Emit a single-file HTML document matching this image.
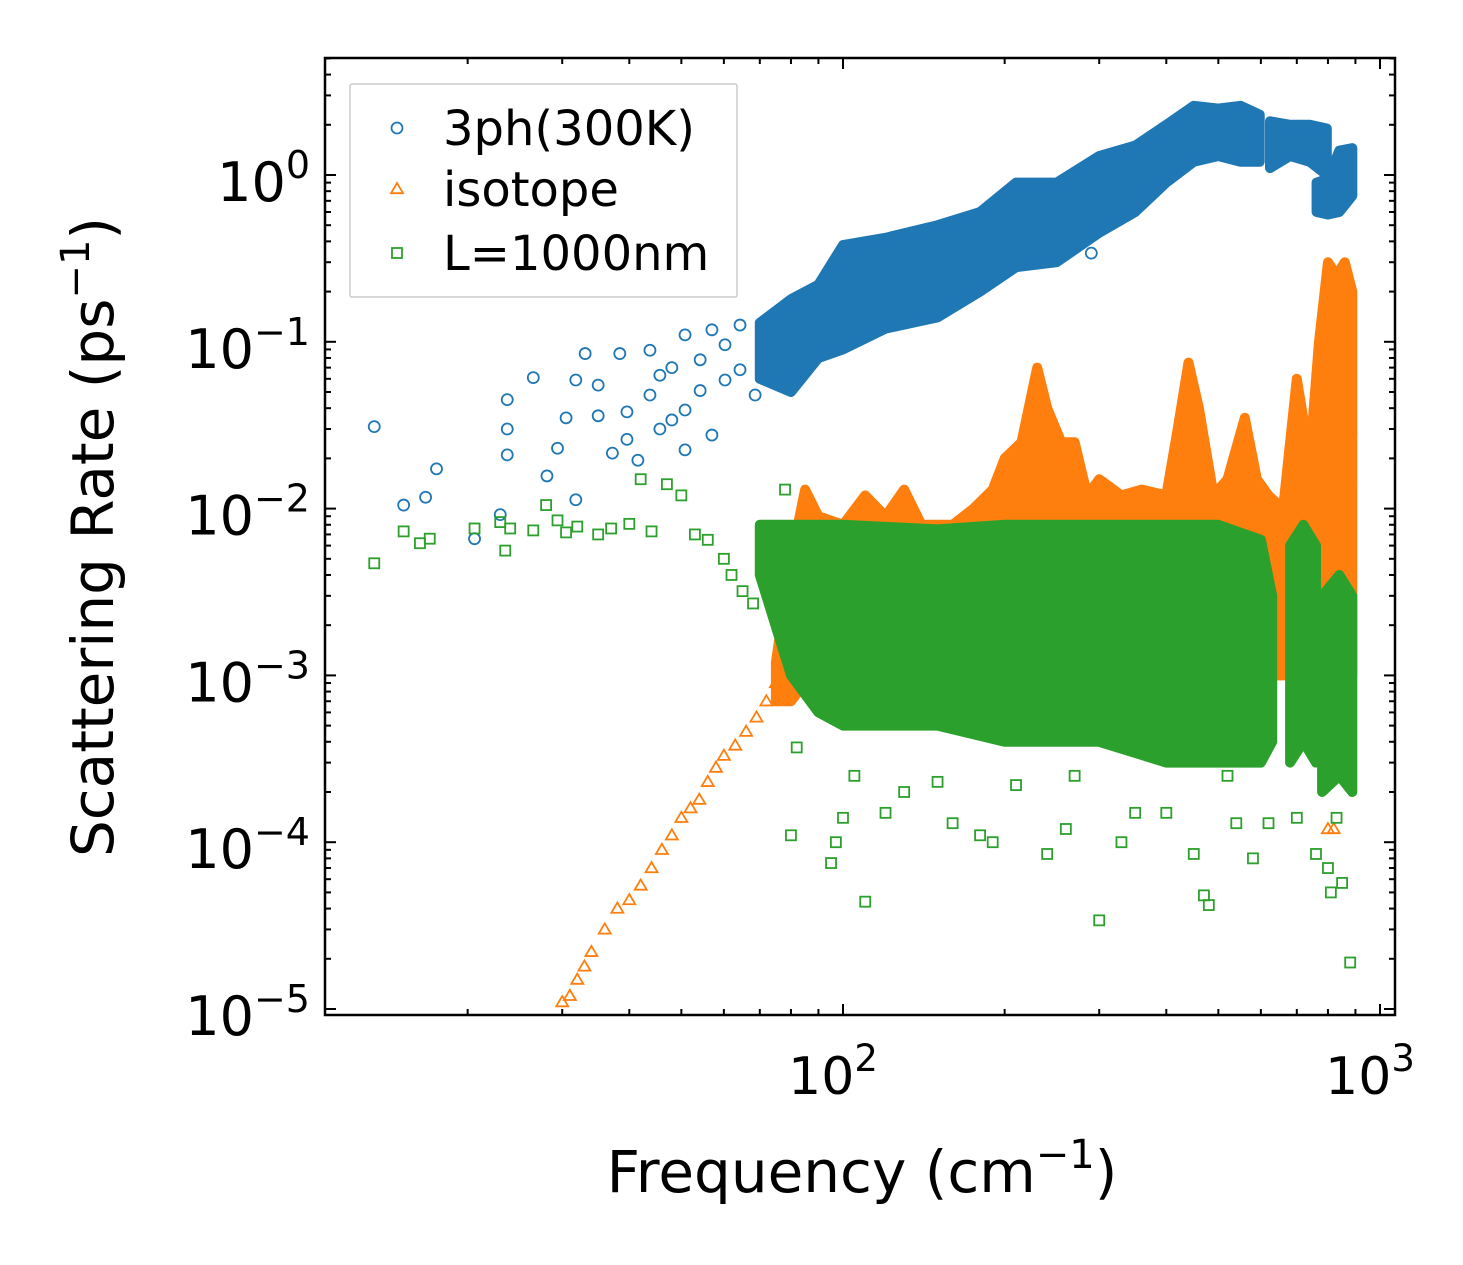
<!DOCTYPE html>
<html><head><meta charset="utf-8">
<style>
html,body{margin:0;padding:0;background:#fff;}
svg{display:block;font-family:"DejaVu Sans","Liberation Sans",sans-serif;}
</style></head>
<body>
<svg id="chart" width="1463" height="1265" viewBox="0 0 1463 1265" xmlns="http://www.w3.org/2000/svg">
<rect x="0" y="0" width="1463" height="1265" fill="#fff"/>
<g id="plot"></g>
</svg>
<script>
// ---- data ----
const xTickValues = [100, 1000];
const xTickLabels = ["10", "10"];
const xTickExps = ["2", "3"];
const yTickValues = [1, 0.1, 0.01, 0.001, 0.0001, 0.00001];
const yTickLabels = ["10", "10", "10", "10", "10", "10"];
const yTickExps = ["0", "\u22121", "\u22122", "\u22123", "\u22124", "\u22125"];

// blue (3ph) dense bands
const blueBandX  = [70, 80, 90, 100, 120, 150, 180, 210, 250, 300, 350, 400, 450, 500, 550, 597];
const blueBandLo = [0.06,0.05,0.08,0.09,0.12,0.14,0.2,0.28,0.3,0.45,0.6,0.9,1.2,1.3,1.2,1.2];
const blueBandHi = [0.13,0.18,0.22,0.38,0.42,0.5,0.6,0.9,0.9,1.3,1.5,2.0,2.6,2.5,2.6,2.3];
const blueBand2X  = [624, 680, 740, 796];
const blueBand2Lo = [1.1, 1.3, 1.2, 1.0];
const blueBand2Hi = [2.1, 2.0, 2.0, 1.9];
const blueBand3X  = [762, 800, 840, 888];
const blueBand3Lo = [0.6, 0.58, 0.6, 0.75];
const blueBand3Hi = [0.9, 0.95, 1.4, 1.45];
const blueX = [13.4,15.2,16.7,17.5,20.6,23,23.7,23.7,23.7,26.5,28.1,29.4,30.5,31.8,31.8,33.1,35,35,37.2,38.4,39.6,39.6,41.5,43.7,43.7,45.6,45.6,48,48,50.8,50.8,50.8,54.2,54.2,57,57,60.3,60.3,64.3,64.3,68.6,290];
const blueY = [0.031,0.0105,0.0117,0.0173,0.0066,0.0092,0.021,0.045,0.030,0.061,0.0157,0.023,0.035,0.059,0.0113,0.085,0.055,0.036,0.0215,0.085,0.026,0.038,0.0195,0.089,0.048,0.063,0.030,0.070,0.034,0.11,0.039,0.0225,0.078,0.051,0.118,0.0276,0.096,0.059,0.126,0.068,0.048,0.34];

// orange (isotope)
const orangeBandX  = [75,80,85,90,100,110,120,130,140,160,175,190,200,215,230,240,255,270,285,300,330,360,400,420,440,460,490,520,560,590,620,660,700,740,770,800,830,860,888];
const orangeBandHi = [1.2e-3,5e-3,1.3e-2,9e-3,8e-3,1.2e-2,9e-3,1.3e-2,8e-3,8e-3,1.0e-2,1.3e-2,2e-2,2.5e-2,7e-2,4e-2,2.5e-2,2.5e-2,1.2e-2,1.5e-2,1.2e-2,1.3e-2,1.2e-2,3e-2,7.5e-2,4e-2,1.2e-2,1.5e-2,3.5e-2,1.5e-2,1.2e-2,1e-2,6e-2,2e-2,0.1,0.3,0.25,0.3,0.2];
const orangeBandLo = [7e-4,7e-4,9e-4,1e-3,1e-3,1e-3,1e-3,1e-3,1e-3,1e-3,1e-3,1e-3,1e-3,1e-3,1e-3,1e-3,1e-3,1e-3,1e-3,1e-3,1e-3,1e-3,1e-3,1e-3,1e-3,1e-3,1e-3,1e-3,1e-3,1e-3,1e-3,1e-3,1e-3,1e-3,1e-3,1e-3,1e-3,1e-3,1e-3];
const orangeX = [30,31,32,33,34,36,38,40,42,44,46,48,50,52,54,56,58,60,63,66,69,72,75,77,800,820,850,880,830,880];
const orangeY = [1.1e-5,1.2e-5,1.5e-5,1.8e-5,2.2e-5,3e-5,4e-5,4.5e-5,5.5e-5,7e-5,9e-5,1.1e-4,1.4e-4,1.6e-4,1.8e-4,2.3e-4,2.8e-4,3.3e-4,3.8e-4,4.6e-4,5.6e-4,7e-4,9e-4,1.3e-3,1.2e-4,1.2e-4,1.2e-2,1.5e-2,8e-3,3e-2];

// green (boundary L=1000nm)
const greenBandX  = [70, 80, 90, 100, 150, 200, 300, 400, 500, 600, 630];
const greenBandLo = [4e-3,1e-3,6e-4,5e-4,5e-4,4e-4,4e-4,3e-4,3e-4,3e-4,4e-4];
const greenBandHi = [8e-3,8e-3,8e-3,8e-3,7.5e-3,8e-3,8e-3,8e-3,8e-3,6.5e-3,3e-3];
const greenBand2X  = [680, 720, 760];
const greenBand2Lo = [3e-4, 4e-4, 3e-4];
const greenBand2Hi = [6e-3, 8e-3, 6e-3];
const greenBand3X  = [780, 840, 888];
const greenBand3Lo = [2e-4, 2.5e-4, 2e-4];
const greenBand3Hi = [3e-3, 4e-3, 3e-3];
const greenX = [13.4,15.2,16.3,17,20.6,23,23.5,24,26.5,28,29.4,30.5,32,35,37,40,42,44,47,50,53,56,60,62,65,68,72,78,80,82,95,97,100,110,105,120,130,150,160,180,190,210,240,260,300,330,400,450,470,480,540,580,620,700,760,800,810,850,880,830,350,270,520];
const greenY = [4.7e-3,7.3e-3,6.2e-3,6.6e-3,7.6e-3,8.3e-3,5.6e-3,7.6e-3,7.4e-3,1.05e-2,8.5e-3,7.2e-3,7.8e-3,7.0e-3,7.6e-3,8.1e-3,1.5e-2,7.3e-3,1.4e-2,1.2e-2,7e-3,6.5e-3,5e-3,4e-3,3.2e-3,2.7e-3,3.5e-3,1.3e-2,1.1e-4,3.7e-4,7.5e-5,1.0e-4,1.4e-4,4.4e-5,2.5e-4,1.5e-4,2.0e-4,2.3e-4,1.3e-4,1.1e-4,1.0e-4,2.2e-4,8.5e-5,1.2e-4,3.4e-5,1.0e-4,1.5e-4,8.5e-5,4.8e-5,4.2e-5,1.3e-4,8e-5,1.3e-4,1.4e-4,8.5e-5,7e-5,5e-5,5.7e-5,1.9e-5,1.4e-4,1.5e-4,2.5e-4,2.5e-4];

// ---- layout ----
const L = 325, R = 1395, T = 58, B = 1015;
const X0 = 843, XDEC = 537;
const Y0 = 175, YDEC = 166.8;
const xs = v => X0 + (Math.log10(v) - 2) * XDEC;
const ys = v => Y0 - Math.log10(v) * YDEC;
const NS = "http://www.w3.org/2000/svg";
const plot = document.getElementById('plot');
function mk(tag, attrs, parent) {
  const e = document.createElementNS(NS, tag);
  for (const k in attrs) e.setAttribute(k, attrs[k]);
  (parent || plot).appendChild(e);
  return e;
}
const C_BLUE = "#1f77b4", C_ORANGE = "#ff7f0e", C_GREEN = "#2ca02c";

const clipDefs = mk('defs', {});
const cp = mk('clipPath', {id: 'clip'}, clipDefs);
mk('rect', {x: L, y: T, width: R - L, height: B - T}, cp);
const marks = mk('g', {'clip-path': 'url(#clip)'});



function band(xa, lo, hi, color, name) {
  let pts = [];
  for (let i = 0; i < xa.length; i++) pts.push(xs(xa[i]).toFixed(1) + ',' + ys(hi[i]).toFixed(1));
  for (let i = xa.length - 1; i >= 0; i--) pts.push(xs(xa[i]).toFixed(1) + ',' + ys(lo[i]).toFixed(1));
  const p = mk('polygon', {points: pts.join(' '), fill: color, stroke: color, 'stroke-width': 10, 'stroke-linejoin': 'round'}, marks);
  
  
}
function circ(cx, cy, color, parent) {
  return mk('circle', {cx: cx, cy: cy, r: 5.5, fill: 'none', stroke: color, 'stroke-width': 1.8}, parent);
}
function tri(cx, cy, color, parent) {
  const s = 6;
  return mk('polygon', {points: `${cx},${cy - s} ${cx - s},${cy + s * 0.7} ${cx + s},${cy + s * 0.7}`, fill: 'none', stroke: color, 'stroke-width': 1.8}, parent);
}
function sq(cx, cy, color, parent) {
  return mk('rect', {x: cx - 5, y: cy - 5, width: 10, height: 10, fill: 'none', stroke: color, 'stroke-width': 1.8}, parent);
}

band(blueBandX, blueBandLo, blueBandHi, C_BLUE, 'blue-band-main');
band(blueBand2X, blueBand2Lo, blueBand2Hi, C_BLUE, 'blue-band-2');
band(blueBand3X, blueBand3Lo, blueBand3Hi, C_BLUE, 'blue-band-3');
for (let i = 0; i < blueX.length; i++) {
  const m = circ(xs(blueX[i]), ys(blueY[i]), C_BLUE, marks);
  
  
}
band(orangeBandX, orangeBandLo, orangeBandHi, C_ORANGE, 'orange-band');
for (let i = 0; i < orangeX.length; i++) {
  const m = tri(xs(orangeX[i]), ys(orangeY[i]), C_ORANGE, marks);
  
  
}
band(greenBandX, greenBandLo, greenBandHi, C_GREEN, 'green-band-main');
band(greenBand2X, greenBand2Lo, greenBand2Hi, C_GREEN, 'green-band-2');
band(greenBand3X, greenBand3Lo, greenBand3Hi, C_GREEN, 'green-band-3');
for (let i = 0; i < greenX.length; i++) {
  const m = sq(xs(greenX[i]), ys(greenY[i]), C_GREEN, marks);
  
  
}

const frame = mk('rect', {x: L, y: T, width: R - L, height: B - T, fill: 'none', stroke: '#000', 'stroke-width': 2.5});



const ticks = mk('g', {stroke: '#000', 'stroke-width': 2});


for (let d = 1; d <= 3; d++) {
  for (let k = 1; k <= 9; k++) {
    const v = k * Math.pow(10, d);
    const px = xs(v);
    if (px < L || px > R) continue;
    const len = k === 1 ? 11 : 6;
    mk('line', {x1: px, y1: B, x2: px, y2: B - len}, ticks);
    mk('line', {x1: px, y1: T, x2: px, y2: T + len}, ticks);
  }
}
for (let d = -6; d <= 0; d++) {
  for (let k = 1; k <= 9; k++) {
    const v = k * Math.pow(10, d);
    const py = ys(v);
    if (py < T || py > B) continue;
    const len = k === 1 ? 11 : 6;
    mk('line', {x1: L, y1: py, x2: L + len, y2: py}, ticks);
    mk('line', {x1: R, y1: py, x2: R - len, y2: py}, ticks);
  }
}
for (let i = 0; i < xTickValues.length; i++) {
  const t = mk('text', {x: xs(xTickValues[i]) - 10, y: 1094, 'font-size': 52, 'text-anchor': 'middle', fill: '#000'});
  
  
  t.textContent = xTickLabels[i];
  const s = mk('tspan', {dy: -23, 'font-size': 37}, t);
  s.textContent = xTickExps[i];
}
for (let i = 0; i < yTickValues.length; i++) {
  const t = mk('text', {x: 310, y: ys(yTickValues[i]) + 26, 'font-size': 54, 'text-anchor': 'end', fill: '#000'});
  
  
  const b = mk('tspan', {}, t);
  b.textContent = yTickLabels[i];
  const s = mk('tspan', {dy: -23, 'font-size': 38}, t);
  s.textContent = yTickExps[i];
}
const xt = mk('text', {x: 862, y: 1192, 'font-size': 58, 'text-anchor': 'middle', fill: '#000'});


xt.appendChild(document.createTextNode('Frequency (cm'));
const xe = mk('tspan', {dy: -24, 'font-size': 40}, xt); xe.textContent = '\u22121';
const xc = mk('tspan', {dy: 24}, xt); xc.textContent = ')';

const yt = mk('text', {x: 0, y: 0, 'font-size': 58, 'text-anchor': 'middle', fill: '#000', transform: 'translate(113,537) rotate(-90)'});


yt.appendChild(document.createTextNode('Scattering Rate (ps'));
const ye = mk('tspan', {dy: -24, 'font-size': 40}, yt); ye.textContent = '\u22121';
const yc = mk('tspan', {dy: 24}, yt); yc.textContent = ')';

const lg = mk('g', {});


mk('rect', {x: 350, y: 84, width: 387, height: 213, fill: '#fff', 'fill-opacity': 0.8, stroke: '#ccc', 'stroke-width': 1.5, rx: 2}, lg);
const legLabels = ['3ph(300K)', 'isotope', 'L=1000nm'];
const legColors = [C_BLUE, C_ORANGE, C_GREEN];
const legFns = [circ, tri, sq];
const legY = [128, 189, 253];
for (let i = 0; i < 3; i++) {
  const g = mk('g', {}, lg);
  
  
  legFns[i](397, legY[i], legColors[i], g);
  const t = mk('text', {x: 443, y: legY[i] + 17, 'font-size': 48, fill: '#000'}, g);
  t.textContent = legLabels[i];
}
</script>
</body></html>
